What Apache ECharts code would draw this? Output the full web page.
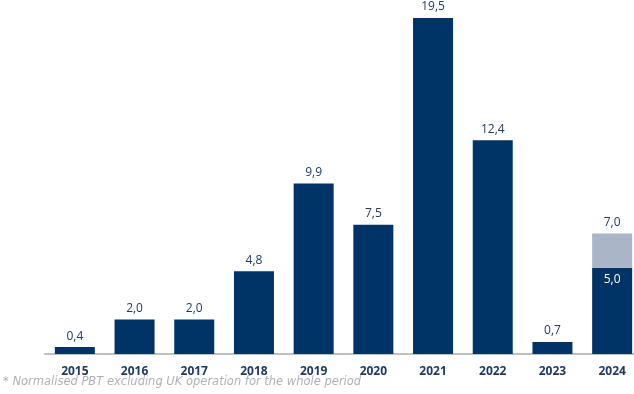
<!DOCTYPE html>
<html><head><meta charset="utf-8">
<script src="https://cdn.jsdelivr.net/npm/echarts@6/dist/echarts.min.js"></script>
<style>html,body{margin:0;padding:0;background:#fff}#c{width:634px;height:394px}</style>
</head><body><div id="c"></div>
<script>
const categories = ['2015','2016','2017','2018','2019','2020','2021','2022','2023','2024'];
const pbt = [0.4, 2.0, 2.0, 4.8, 9.9, 7.5, 19.5, 12.4, 0.7, 5.0];
const extra = [null, null, null, null, null, null, null, null, null, 2.0];
const footnote = '* Normalised PBT excluding UK operation for the whole period';
const fmt = v => v.toFixed(1).replace('.', ',');
const chart = echarts.init(document.getElementById('c'));
const darkData = pbt.map((v, i) => i === 9 ? {value: v, label: {position: 'insideTop', color: '#ffffff', distance: 6}} : v);
chart.setOption({
  animation: false,
  grid: {left: 45, width: 597, top: 9.4, bottom: 40, outerBoundsMode: 'none', containLabel: false},
  xAxis: {
    type: 'category', data: categories,
    axisLine: {lineStyle: {color: '#c0c0c0', width: 2}},
    axisTick: {show: false},
    axisLabel: {color: '#1f3864', fontWeight: 'bold', fontSize: 12, fontFamily: 'Open Sans', margin: 12}
  },
  yAxis: {type: 'value', min: 0, max: 20, show: false, splitLine: {show: false}},
  series: [
    {
      type: 'bar', stack: 'a', data: darkData, barWidth: 40,
      itemStyle: {color: '#003467'},
      label: {
        show: true, fontFamily: 'Open Sans', fontSize: 12, color: '#1f3864',
        position: 'top', distance: 5,
        formatter: p => fmt(pbt[p.dataIndex])
      }
    },
    {
      type: 'bar', stack: 'a', data: extra, barWidth: 40,
      itemStyle: {color: '#aab5c8'},
      label: {
        show: true, fontFamily: 'Open Sans', fontSize: 12, color: '#1f3864',
        position: 'top', distance: 5,
        formatter: p => fmt(pbt[p.dataIndex] + p.value)
      }
    }
  ],
  graphic: [{
    type: 'text', left: 3, top: 376,
    style: {text: footnote, fill: '#b0b0ba', font: 'italic 11.5px "DejaVu Sans"'}
  }]
});
</script></body></html>
